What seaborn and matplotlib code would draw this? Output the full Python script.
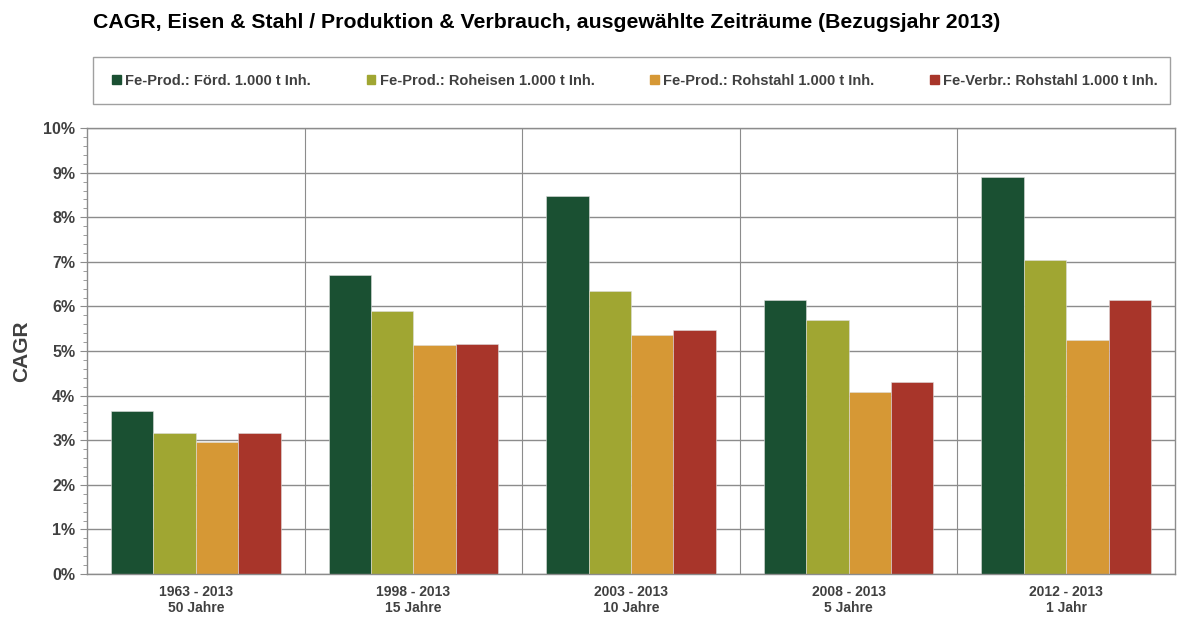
# %%
# importing Libraries
import pandas as pd
import matplotlib
matplotlib.use("Agg")
import matplotlib.pyplot as plt
import seaborn as sns
from matplotlib.ticker import MultipleLocator, PercentFormatter

# %%
# data (CAGR in %)
zeitraeume = ["1963 - 2013\n50 Jahre", "1998 - 2013\n15 Jahre", "2003 - 2013\n10 Jahre",
              "2008 - 2013\n5 Jahre", "2012 - 2013\n1 Jahr"]
serien = ["Fe-Prod.: Förd. 1.000 t Inh.", "Fe-Prod.: Roheisen 1.000 t Inh.",
          "Fe-Prod.: Rohstahl 1.000 t Inh.", "Fe-Verbr.: Rohstahl 1.000 t Inh."]
foerd = [3.65, 6.70, 8.48, 6.14, 8.90]
roheisen = [3.16, 5.90, 6.35, 5.70, 7.04]
rohstahl_prod = [2.96, 5.13, 5.36, 4.08, 5.25]
rohstahl_verbr = [3.16, 5.16, 5.47, 4.30, 6.14]
farben = ["#1A5032", "#A0A632", "#D69835", "#A8352A"]

werte = [foerd, roheisen, rohstahl_prod, rohstahl_verbr]
df = pd.DataFrame([
    {"Zeitraum": z, "Serie": s, "CAGR": v}
    for s, vals in zip(serien, werte)
    for z, v in zip(zeitraeume, vals)
])

# %%
sns.set_style("white")
plt.rcParams["font.family"] = ["Liberation Sans", "DejaVu Sans"]
grau = "#404040"

fig = plt.figure(figsize=(11.79, 6.31), dpi=100)
ax = fig.add_axes([0.0738, 0.0903, 0.9228, 0.7067])

sns.barplot(data=df, x="Zeitraum", y="CAGR", hue="Serie", palette=farben,
            width=0.78, saturation=1, edgecolor="#dddddd", linewidth=0.4, ax=ax)

ax.set_ylim(0, 10)
ax.set_xlim(-0.5, len(zeitraeume) - 0.5)
ax.yaxis.set_major_locator(MultipleLocator(1))
ax.yaxis.set_minor_locator(MultipleLocator(0.2))
ax.yaxis.set_major_formatter(PercentFormatter(decimals=0))
ax.set_xticks([i + 0.5 for i in range(len(zeitraeume) - 1)], minor=True)
ax.set_axisbelow(True)
ax.grid(axis="y", which="major", color="#8c8c8c", linewidth=1)
ax.grid(axis="x", which="minor", color="#8c8c8c", linewidth=0.8)
ax.tick_params(axis="y", which="major", direction="out", length=5, color="#8c8c8c",
               labelsize=11.5, labelcolor=grau, left=True)
ax.tick_params(axis="y", which="minor", direction="out", length=3, color="#8c8c8c", left=True)
ax.tick_params(axis="x", which="both", length=0, labelsize=10, labelcolor=grau, pad=8)
for lbl in ax.get_xticklabels() + ax.get_yticklabels():
    lbl.set_fontweight("bold")
for sp in ax.spines.values():
    sp.set_color("#8c8c8c")
    sp.set_linewidth(1)

ax.set_xlabel("")
ax.set_ylabel("")
fig.text(22 / 1179, 0.4437, "CAGR", rotation=90, fontsize=15, fontweight="bold",
         color=grau, ha="center", va="center")

# legend box + entries
ax.legend_.remove()
fig.patches.append(plt.Rectangle((93 / 1179, 1 - 104 / 631), 1077 / 1179, 47 / 631,
                                 transform=fig.transFigure, fill=False,
                                 edgecolor="#a0a0a0", linewidth=1))
handles = [plt.Rectangle((0, 0), 1, 1, color=c) for c in farben]
leg = fig.legend(handles, serien, loc="center", ncol=4, bbox_to_anchor=(0.5386, 0.8724),
                 frameon=False, handlelength=0.6, handleheight=0.6, handletextpad=0.3,
                 columnspacing=3.8, borderaxespad=0, prop={"weight": "bold", "size": 10.5})
for t in leg.get_texts():
    t.set_color(grau)

fig.text(0.079, 0.965, "CAGR, Eisen & Stahl / Produktion & Verbrauch, ausgewählte Zeiträume (Bezugsjahr 2013)",
         fontsize=15.3, fontweight="bold", color="black", va="center")

fig.savefig("out.png", dpi=100)
